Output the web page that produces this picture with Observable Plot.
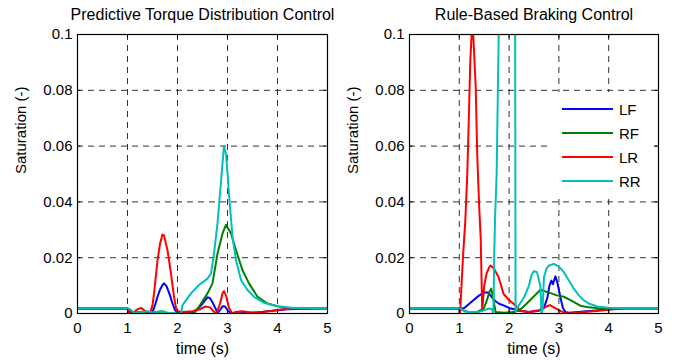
<!DOCTYPE html>
<html><head><meta charset="utf-8">
<script src="https://cdn.jsdelivr.net/npm/d3@7"></script>
<script src="https://cdn.jsdelivr.net/npm/@observablehq/plot@0.6"></script>
<style>
body{margin:0;background:#fff;}
#wrap{position:relative;width:675px;height:360px;font-family:"Liberation Sans",Arial,sans-serif;overflow:hidden;}
.panel{position:absolute;top:0;}
#legend{position:absolute;left:549px;top:92px;width:105px;height:106px;background:#fff;}
</style></head><body>
<div id="wrap"><div class="panel" id="p1" style="left:0"></div><div class="panel" id="p2" style="left:337px"></div><div id="legend"></div></div>
<script>
const seriesNames = ["LF", "RF", "LR", "RR"];
const seriesColors = ["#0000ff", "#008000", "#ff0000", "#00bfbf"];
const xTicks = [0, 1, 2, 3, 4, 5];
const yTicks = [0, 0.02, 0.04, 0.06, 0.08, 0.1];
const panelTitles = ["Predictive Torque Distribution Control", "Rule-Based Braking Control"];
const xLabel = "time (s)";
const yLabel = "Saturation (-)";

// Predictive Torque Distribution Control
const ptdLF_t = [0,1,1.05,1.2,1.4,1.5,1.55,1.6,1.65,1.7,1.73,1.78,1.85,1.9,1.95,2.0,2.1,2.3,2.4,2.5,2.6,2.65,2.7,2.75,2.8,2.85,2.9,2.95,3.0,3.05,3.1,3.2,3.4,3.6,3.8,4.0,4.2,4.4,5];
const ptdLF = [0.0018,0.0018,0.0002,0,0,0.0005,0.003,0.006,0.0085,0.0102,0.0108,0.0098,0.0065,0.0035,0.0012,0.0003,0.0002,0.0005,0.0015,0.0035,0.0058,0.0055,0.004,0.0022,0.0002,0.0012,0.0026,0.0025,0.0012,0.0003,0,0,0.0003,0.0004,0.0008,0.0012,0.0015,0.0016,0.0018];
const ptdRF_t = [0,1,1.1,1.3,1.5,1.7,1.8,2.0,2.33,2.45,2.6,2.7,2.8,2.9,2.97,3.07,3.17,3.3,3.43,3.6,3.8,4.0,4.2,5];
const ptdRF = [0.0018,0.0018,0.0003,0.0006,0.0003,0.0008,0,0,0,0.003,0.0072,0.0108,0.0215,0.0287,0.0318,0.0287,0.0227,0.0155,0.0108,0.006,0.0036,0.0026,0.002,0.0018];
const ptdLR_t = [0,1,1.02,1.1,1.2,1.27,1.33,1.4,1.45,1.5,1.53,1.6,1.65,1.7,1.73,1.8,1.87,1.93,1.98,2.1,2.3,2.45,2.55,2.65,2.72,2.78,2.85,2.9,2.93,2.97,3.03,3.1,3.15,3.3,3.5,3.7,3.9,4.1,4.4];
const ptdLR = [0.0018,0.0018,0,0,0.0015,0.002,0.0012,0.0003,0,0.003,0.007,0.019,0.025,0.0283,0.028,0.0227,0.0143,0.006,0.001,0.0005,0.0008,0.0015,0.0025,0.0022,0.0008,0,0.0035,0.0072,0.008,0.0065,0.002,0,0.0005,0.0008,0.0003,0.0005,0.001,0.0015,0.0018];
const ptdRR_t = [0,1,1.05,1.1,1.16,1.3,1.4,1.5,1.6,1.7,1.8,1.85,2.07,2.1,2.27,2.43,2.6,2.67,2.73,2.8,2.85,2.9,2.93,2.97,3.0,3.05,3.1,3.17,3.27,3.4,3.53,3.73,4.0,4.33,5];
const ptdRR = [0.0019,0.0019,0.0015,0.0008,0,0.0005,0.0008,0.0004,0.0006,0.0008,0.0003,0,0,0.003,0.0072,0.0102,0.0125,0.0143,0.0215,0.0323,0.043,0.0538,0.06,0.0573,0.0502,0.0382,0.0275,0.0191,0.012,0.0084,0.006,0.0038,0.0026,0.002,0.0019];

// Rule-Based Braking Control
const rbLF_t = [0,1,1.1,1.2,1.3,1.4,1.5,1.58,1.65,1.72,1.8,1.9,2.0,2.1,2.2,2.4,2.6,2.7,2.77,2.81,2.85,2.88,2.93,2.97,3.03,3.08,3.13,3.2,3.5,3.8,4.0,4.3,5];
const rbLF = [0.0018,0.0018,0.002,0.0035,0.005,0.0065,0.0075,0.0075,0.006,0.0045,0.0035,0.0028,0.002,0.0015,0.001,0.0005,0.001,0.002,0.0058,0.01,0.0118,0.0105,0.0133,0.011,0.0058,0.002,0.0005,0.0003,0.0007,0.0012,0.0015,0.0018,0.0018];
const rbRF_t = [0,1,1.1,1.2,1.35,1.49,1.55,1.6,1.64,1.67,1.73,1.9,2.1,2.23,2.35,2.5,2.63,2.8,2.96,3.1,3.23,3.43,3.6,3.8,4.0,5];
const rbRF = [0.0018,0.0018,0.001,0.0005,0.0005,0.0017,0.0045,0.0075,0.0089,0.0065,0.0005,0.0003,0.0005,0.0015,0.0035,0.0062,0.0085,0.0075,0.0065,0.006,0.0048,0.0028,0.0022,0.0019,0.0018,0.0018];
const rbLR_t = [0,1,1.01,1.02,1.05,1.08,1.12,1.16,1.19,1.22,1.25,1.28,1.33,1.36,1.4,1.43,1.46,1.5,1.55,1.6,1.63,1.7,1.79,1.89,2.0,2.09,2.23,2.4,2.6,2.75,2.82,2.9,3.0,3.1,3.2,3.5,3.8,4.1,4.3];
const rbLR = [0.0018,0.0018,0,0.0015,0.012,0.022,0.033,0.05,0.069,0.09,0.101,0.1,0.081,0.057,0.038,0.027,0.001,0.01,0.0145,0.0165,0.0172,0.016,0.013,0.007,0.0048,0.0035,0.001,0.0005,0.0012,0.0025,0.003,0.0022,0.0012,0.0003,0,0.0005,0.001,0.0015,0.0018];
const rbRR_t = [0,1,1.05,1.1,1.2,1.4,1.5,1.6,1.66,1.68,1.69,1.7,1.72,1.75,1.78,1.81,1.9,2.05,2.12,2.13,2.2,2.3,2.4,2.45,2.5,2.56,2.6,2.63,2.65,2.67,2.7,2.75,2.8,2.9,3.0,3.1,3.2,3.3,3.4,3.5,3.6,3.77,4.0,4.3,5];
const rbRR = [0.0019,0.0019,0.0015,0.0008,0.0005,0.0006,0.0012,0.0018,0.0015,0,0.005,0.02,0.035,0.05,0.087,0.12,0.13,0.13,0.12,0.0008,0.003,0.0058,0.01,0.0137,0.0152,0.0148,0.012,0.0094,0,0.001,0.013,0.016,0.0172,0.0178,0.0168,0.0148,0.0118,0.0089,0.0065,0.0047,0.0036,0.0025,0.0021,0.0019,0.0019];

function rows(t, v, name) { return t.map((x, i) => ({t: x, v: v[i], name})); }

const ptdData = [
  ...rows(ptdLF_t, ptdLF, "LF"), ...rows(ptdRF_t, ptdRF, "RF"),
  ...rows(ptdLR_t, ptdLR, "LR"), ...rows(ptdRR_t, ptdRR, "RR")
];
const rbData = [
  ...rows(rbLF_t, rbLF, "LF"), ...rows(rbRF_t, rbRF, "RF"),
  ...rows(rbLR_t, rbLR, "LR"), ...rows(rbRR_t, rbRR, "RR")
];

function panel(data, title, width, marginLeft, marginRight) {
  return Plot.plot({
    width, height: 360,
    marginLeft, marginRight, marginTop: 34, marginBottom: 47,
    style: {fontFamily: "'Liberation Sans', Arial, sans-serif", fontSize: "15px", background: "white", color: "black", overflow: "visible"},
    x: {domain: [0, 5]},
    y: {domain: [0, 0.1]},
    color: {domain: seriesNames, range: seriesColors},
    marks: [
      Plot.ruleX(xTicks.slice(1, -1), {x: d => d, stroke: "#000", strokeOpacity: 0.8, strokeDasharray: "6,5"}),
      Plot.ruleY(yTicks.slice(1, -1), {y: d => d, stroke: "#000", strokeOpacity: 0.8, strokeDasharray: "6,5"}),
      Plot.line(data, {x: "t", y: "v", z: "name", stroke: "name", strokeWidth: 2, clip: true, curve: "linear"}),
      Plot.ruleX(xTicks, {x: d => d, y1: 0, y2: 0.0015, stroke: "#000"}),
      Plot.ruleX(xTicks, {x: d => d, y1: 0.1, y2: 0.0985, stroke: "#000"}),
      Plot.ruleY(yTicks, {y: d => d, x1: 0, x2: 0.07, stroke: "#000"}),
      Plot.ruleY(yTicks, {y: d => d, x1: 5, x2: 4.93, stroke: "#000"}),
      Plot.frame({stroke: "#000", strokeWidth: 1.2}),
      Plot.axisX({ticks: xTicks, tickSize: 0, tickPadding: 9, label: null, tickFormat: d => String(d)}),
      Plot.axisY({ticks: yTicks, tickSize: 0, tickPadding: 5, label: null, tickFormat: d => String(d)}),
      Plot.text([title], {text: d => d, frameAnchor: "top", dy: -20, fontSize: 16, lineAnchor: "middle"}),
      Plot.text([xLabel], {text: d => d, frameAnchor: "bottom", dy: 35, fontSize: 16, lineAnchor: "middle"}),
      Plot.text([yLabel], {text: d => d, frameAnchor: "left", dx: -56, rotate: -90, fontSize: 15, lineAnchor: "middle"})
    ]
  });
}

document.getElementById("p1").append(panel(ptdData, panelTitles[0], 337, 77, 10));
document.getElementById("p2").append(panel(rbData, panelTitles[1], 338, 72, 17));

// legend
const ns = "http://www.w3.org/2000/svg";
const lg = document.createElementNS(ns, "svg");
lg.setAttribute("width", 105); lg.setAttribute("height", 106);
lg.style.fontFamily = "'Liberation Sans', Arial, sans-serif";
seriesNames.forEach((name, i) => {
  const cy = 17 + i * 24;
  const ln = document.createElementNS(ns, "line");
  ln.setAttribute("x1", 13); ln.setAttribute("x2", 64);
  ln.setAttribute("y1", cy); ln.setAttribute("y2", cy);
  ln.setAttribute("stroke", seriesColors[i]); ln.setAttribute("stroke-width", 2);
  lg.append(ln);
  const tx = document.createElementNS(ns, "text");
  tx.setAttribute("x", 70); tx.setAttribute("y", cy + 5.5);
  tx.setAttribute("font-size", 15);
  tx.textContent = name;
  lg.append(tx);
});
document.getElementById("legend").append(lg);
</script>
</body></html>
